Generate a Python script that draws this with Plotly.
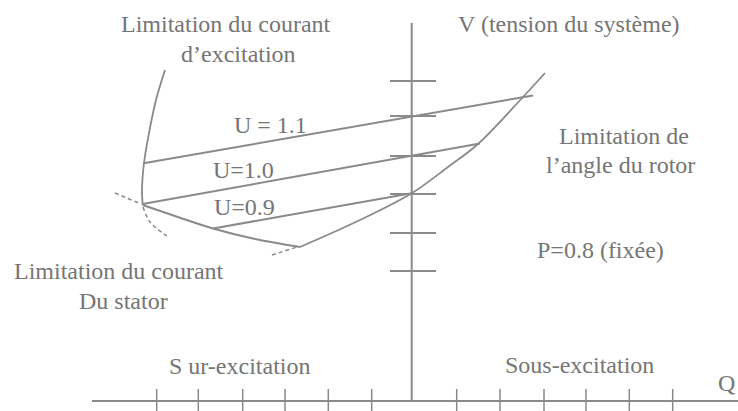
import plotly.graph_objects as go

# Diagram coordinates (x to the right, y downward)
W, H = 738, 411

# axes of the Q-V diagram
Q_AXIS_X = [92, 738]
Q_AXIS_Y = [401, 401]
V_AXIS_X = [411.7, 411.7]
V_AXIS_Y = [23, 401]

# tick positions
Q_TICKS = [156.7, 198.3, 242.7, 285, 328.3, 371.7, 456.7, 500, 544, 586, 629.3, 672.7]
V_TICKS = [81, 116, 156, 194, 233, 271]

# limitation du courant d'excitation
EXC_X = [165, 156, 149, 144, 142, 142.7]
EXC_Y = [70, 100, 133, 163, 190, 205]
EXC_DASH_X = [143, 150, 167]
EXC_DASH_Y = [207, 222, 236]

# limitation du courant du stator
STAT_X = [142.7, 175, 213, 255, 300]
STAT_Y = [205, 216, 228.5, 239, 247]
STAT_DASH_X = [115, 141]
STAT_DASH_Y = [193, 204]

# limitation de l'angle du rotor
ROT_X = [300, 360, 411.7, 448, 478, 523, 545]
ROT_Y = [247, 220, 193.3, 167, 144, 97, 73]
ROT_DASH_X = [272, 297]
ROT_DASH_Y = [255, 247]

# tension lines
U11_X = [143.5, 533]
U11_Y = [163.3, 95.5]
U10_X = [142.7, 480]
U10_Y = [204, 143.5]
U09_X = [213, 411.7]
U09_Y = [228.5, 193.3]

LABELS = [
    ("Limitation du courant", 226, 24),
    ("d\u2019excitation", 238, 54),
    ("V (tension du syst\u00e8me)", 569, 24),
    ("U = 1.1", 270, 125),
    ("U=1.0", 243, 170),
    ("U=0.9", 244, 207),
    ("Limitation de", 624, 136),
    ("l\u2019angle du rotor", 620, 165),
    ("P=0.8 (fix\u00e9e)", 600, 250),
    ("Limitation du courant", 119, 271),
    ("Du stator", 123, 301),
    ("S ur-excitation", 239, 366),
    ("Sous-excitation", 579, 365),
]

LINE = "#8a8a8a"
TEXT = "#757575"
FONT = dict(family="Liberation Serif", size=24, color=TEXT)


def line(x, y, dash="solid", width=2, shape="linear"):
    return go.Scatter(
        x=x, y=y, mode="lines", hoverinfo="skip",
        line=dict(color=LINE, width=width, dash=dash, shape=shape),
    )


def tick_segments(positions, lo, hi, vertical):
    xs, ys = [], []
    for p in positions:
        if vertical:
            xs += [p, p, None]
            ys += [lo, hi, None]
        else:
            xs += [lo, hi, None]
            ys += [p, p, None]
    return xs, ys


fig = go.Figure()

fig.add_trace(line(Q_AXIS_X, Q_AXIS_Y))
fig.add_trace(line(V_AXIS_X, V_AXIS_Y))
tx, ty = tick_segments(Q_TICKS, 389, 411, vertical=True)
fig.add_trace(line(tx, ty, width=1.5))
tx, ty = tick_segments(V_TICKS, 390, 436, vertical=False)
fig.add_trace(line(tx, ty))

fig.add_trace(line(EXC_X, EXC_Y, width=1.8, shape="spline"))
fig.add_trace(line(EXC_DASH_X, EXC_DASH_Y, dash="4px,3px", width=1.5, shape="spline"))
fig.add_trace(line(STAT_X, STAT_Y, shape="spline"))
fig.add_trace(line(STAT_DASH_X, STAT_DASH_Y, dash="4px,3px", width=1.5))
fig.add_trace(line(ROT_X, ROT_Y, width=1.8, shape="spline"))
fig.add_trace(line(ROT_DASH_X, ROT_DASH_Y, dash="4px,3px", width=1.5))

fig.add_trace(line(U11_X, U11_Y))
fig.add_trace(line(U10_X, U10_Y))
fig.add_trace(line(U09_X, U09_Y))

for text, x, y in LABELS:
    fig.add_annotation(
        x=x, y=y, text=text, showarrow=False,
        xanchor="center", yanchor="middle", font=FONT,
    )

# axis name Q, kept just inside the right edge
fig.add_annotation(
    x=737, y=383, text="Q", showarrow=False, xanchor="right", yanchor="middle",
    font=dict(family="Liberation Serif", size=24, color=TEXT),
)

fig.update_layout(
    width=W, height=H,
    margin=dict(l=0, r=0, t=0, b=0),
    paper_bgcolor="white", plot_bgcolor="white",
    showlegend=False,
    xaxis=dict(range=[0, W], visible=False, fixedrange=True),
    yaxis=dict(range=[H, 0], visible=False, fixedrange=True),
)

fig.write_html(
    "out.html",
    config={"displayModeBar": False},
    post_script="document.body.style.margin='0';document.body.style.overflow='hidden';",
)
